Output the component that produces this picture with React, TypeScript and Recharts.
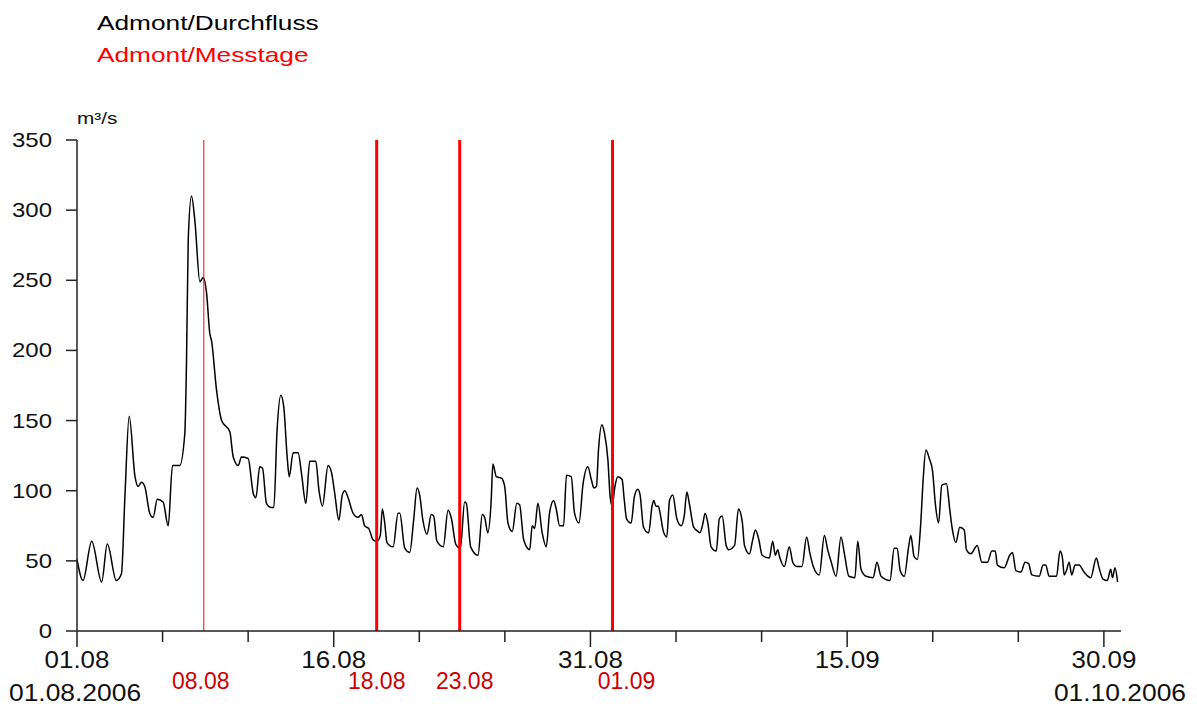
import React from 'react';
import { LineChart, Line, XAxis, YAxis, ReferenceLine } from 'recharts';

// time in days since 01.08.2006 00:00
const days = [
  0, 0.35, 0.86, 1.44, 1.77, 2.3, 2.6, 2.8, 3.05, 3.39, 3.57, 3.77, 3.96, 4.25, 4.45, 4.69, 5.03, 5.33, 5.58, 6.0,
  6.3, 6.4, 6.5, 6.69, 6.89, 7.18, 7.37, 7.57, 7.76, 7.86,
  8.15, 8.45, 8.93, 9.13, 9.42, 9.61, 10.0, 10.3, 10.45, 10.68, 10.84, 11.07, 11.36, 11.5, 11.69, 11.91, 12.08, 12.28,
  12.4, 12.63, 12.92, 13.12, 13.37, 13.6, 13.95, 14.14, 14.34, 14.67, 14.87, 15.06,
  15.3, 15.5, 15.65, 15.84, 16.13, 16.42, 16.62, 16.81, 17.05, 17.3, 17.53, 17.72, 17.84, 17.98, 18.11, 18.47, 18.76,
  18.86, 19.15, 19.44, 19.67, 19.87, 20.02, 20.21, 20.45, 20.7, 20.84, 21.03, 21.4, 21.68, 21.88, 22.13, 22.4, 22.65, 22.75,
  23.0, 23.43, 23.68, 23.82, 24.0, 24.2, 24.3, 24.5, 24.8, 24.99, 25.18, 25.43, 25.7, 25.86, 26.1, 26.45, 26.6, 26.74,
  26.93, 27.18, 27.42, 27.61, 27.85, 28.0, 28.2, 28.43, 28.6, 28.88, 29.07, 29.33, 29.57, 29.85, 30.05, 30.2,
  30.35, 30.47, 30.67, 30.82, 31.02, 31.15, 31.27, 31.43, 31.6, 31.85, 31.98, 32.11, 32.38, 32.57, 32.77, 32.9, 33.1,
  33.4, 33.6, 33.7, 33.83, 33.97, 34.07, 34.26, 34.46, 34.62, 34.81, 35.05, 35.3, 35.49, 35.63, 35.79, 36.03, 36.28,
  36.4, 36.56, 36.7, 36.86, 37.05, 37.35, 37.53, 37.7, 37.93,
  38.08, 38.42, 38.65, 38.87, 39.0, 39.29, 39.48, 39.64, 39.84, 40.03, 40.45, 40.65, 40.8, 40.94, 41.07, 41.33, 41.62,
  41.82, 42.05, 42.36, 42.63, 42.83, 43.02, 43.37, 43.67, 43.86, 44.05, 44.35, 44.64, 44.84, 45.1, 45.45,
  45.62, 45.81, 46.1, 46.52, 46.74, 46.98, 47.5, 47.75, 47.92, 48.1, 48.34, 48.59, 48.72, 48.91, 49.1, 49.3, 49.44,
  49.6, 49.8, 49.99, 50.15, 50.34, 50.53, 50.8, 51.0, 51.15, 51.35, 51.58, 51.84, 51.97, 52.22, 52.6, 52.87,
  53.2, 53.45, 53.65, 53.78, 54.17, 54.5, 54.66, 54.86, 55.15, 55.4, 55.6, 55.79, 56.22, 56.45, 56.6, 56.8, 57.23,
  57.44, 57.58, 57.68, 57.81, 57.97, 58.12, 58.32, 58.55, 58.84, 59.23, 59.56, 59.72, 59.95, 60.2, 60.4, 60.5, 60.65, 60.8,
];

// Durchfluss in m³/s
const flow = [
  51, 36, 64, 35, 62, 36, 41, 96, 153, 110, 103, 106, 103, 84, 81, 94, 92, 75, 118, 118,
  141, 193, 279, 310, 292, 249, 252, 241, 212, 207,
  172, 150, 142, 124, 118, 124, 123, 98, 95, 117, 116, 91, 88, 88, 143, 168, 160, 124,
  110, 127, 127, 112, 91, 121, 121, 100, 89, 118, 113, 98,
  79, 97, 100, 95, 84, 81, 83, 75, 73, 65, 64, 68, 87, 77, 63, 60, 84,
  84, 59, 56, 79, 102, 97, 79, 69, 83, 82, 64, 60, 86, 80, 62, 59, 92, 91,
  60, 54, 83, 81, 70, 93, 119, 110, 109, 103, 77, 71, 91, 90, 65, 58, 75, 73,
  91, 70, 60, 84, 93, 87, 75, 75, 111, 110, 84, 77, 105, 117, 108, 102,
  103, 129, 147, 141, 122, 96, 89, 103, 110, 108, 93, 80, 77, 96, 101, 97, 74,
  70, 89, 93, 89, 89, 84, 71, 67, 93, 97, 80, 75, 83, 99, 90, 74, 71,
  70, 76, 84, 77, 60, 57, 80, 82, 61,
  58, 61, 87, 78, 61, 55, 65, 72, 65, 54, 52, 64, 54, 58, 52, 46, 60,
  49, 46, 46, 67, 55, 46, 40, 68, 58, 50, 39, 67, 55, 39, 38,
  64, 44, 39, 38, 49, 39, 36, 59, 59, 43, 39, 60, 68, 53, 51, 77, 108,
  129, 123, 114, 91, 77, 104, 105, 86, 72, 63, 74, 72, 58, 55, 61, 49,
  49, 57, 57, 47, 45, 54, 56, 43, 42, 49, 48, 40, 39, 47, 47, 39, 39,
  57, 52, 40, 43, 49, 40, 47, 47, 42, 38, 52, 45, 37, 36, 44, 38, 45, 35,
];

// Messtage (day offset of the measurement) and their labels
const messDays = [7.41, 17.51, 22.36, 31.29];
const messLabels = ['08.08', '18.08', '23.08', '01.09'];

const xTicks = [0, 5, 10, 15, 20, 25, 30, 35, 40, 45, 50, 55, 60];
const xTickLabels: Record<number, string> = { 0: '01.08', 15: '16.08', 30: '31.08', 45: '15.09', 60: '30.09' };
const yTicks = [0, 50, 100, 150, 200, 250, 300, 350];

const data = days.map((d, i) => ({ d, q: flow[i] }));

const FONT = '"Liberation Sans", Arial, sans-serif';
const lineWidths = [1, 3, 3, 3];
const labelNudge = [-3, 0, 5, 14];

const XTick = (props: any) => {
  const { x, y, payload } = props;
  const label = xTickLabels[payload.value];
  const len = label ? 16 : 11;
  return (
    <g>
      <line x1={x} x2={x} y1={y} y2={y + len} stroke="#222" strokeWidth={1.5} />
      {label && (
        <text
          transform={`translate(${x},${y + 37}) scale(1.08,1)`}
          textAnchor="middle"
          fontSize={24}
          fontFamily={FONT}
          fill="#111"
        >
          {label}
        </text>
      )}
    </g>
  );
};

const YTick = (props: any) => {
  const { x, y, payload } = props;
  return (
    <g>
      <line x1={x - 11} x2={x} y1={y} y2={y} stroke="#222" strokeWidth={1.5} />
      <text
        transform={`translate(${x - 25},${y + 7}) scale(1.2,1)`}
        textAnchor="end"
        fontSize={20}
        fontFamily={FONT}
        fill="#111"
      >
        {payload.value}
      </text>
    </g>
  );
};

export default function App() {
  return (
    <div style={{ position: 'fixed', left: 0, top: 0, width: 1197, height: 704, overflow: 'hidden', background: '#fff' }}>
      <LineChart width={1197} height={704} data={data} margin={{ top: 140, right: 76, bottom: 43, left: 17 }}>
        <XAxis
          dataKey="d"
          type="number"
          domain={[0, 61]}
          ticks={xTicks}
          interval={0}
          height={30}
          tickSize={0}
          tickMargin={0}
          tickLine={false}
          axisLine={{ stroke: '#222', strokeWidth: 1.5 }}
          tick={<XTick />}
        />
        <YAxis
          type="number"
          domain={[0, 350]}
          ticks={yTicks}
          interval={0}
          width={60}
          tickSize={0}
          tickMargin={0}
          tickLine={false}
          axisLine={{ stroke: '#222', strokeWidth: 1.5 }}
          tick={<YTick />}
        />
        <Line
          type="monotone"
          dataKey="q"
          stroke="#000"
          strokeWidth={1.5}
          dot={false}
          isAnimationActive={false}
        />
        {messDays.map((md, i) => (
          <ReferenceLine
            key={messLabels[i]}
            x={md}
            stroke="#ff0000"
            strokeWidth={lineWidths[i]}
            label={(p: any) => {
              const vb = p.viewBox || {};
              return (
                <text
                  x={vb.x + labelNudge[i]}
                  y={vb.y + vb.height + 58}
                  textAnchor="middle"
                  fontSize={23}
                  fontFamily={FONT}
                  fill="#cc0000"
                >
                  {messLabels[i]}
                </text>
              );
            }}
          />
        ))}
      </LineChart>
      <svg
        width={1197}
        height={704}
        style={{ position: 'absolute', left: 0, top: 0, pointerEvents: 'none' }}
      >
        <text transform="translate(97,30) scale(1.25,1)" fontSize={21} fontFamily={FONT} fill="#000">
          Admont/Durchfluss
        </text>
        <text transform="translate(97,62) scale(1.25,1)" fontSize={21} fontFamily={FONT} fill="#ff0000">
          Admont/Messtage
        </text>
        <text transform="translate(77,124) scale(1.3,1)" fontSize={16} fontFamily={FONT} fill="#111">
          m³/s
        </text>
        <text transform="translate(9,701) scale(1.1,1)" fontSize={24} fontFamily={FONT} fill="#111">
          01.08.2006
        </text>
        <text transform="translate(1186,701) scale(1.1,1)" textAnchor="end" fontSize={24} fontFamily={FONT} fill="#111">
          01.10.2006
        </text>
      </svg>
    </div>
  );
}
